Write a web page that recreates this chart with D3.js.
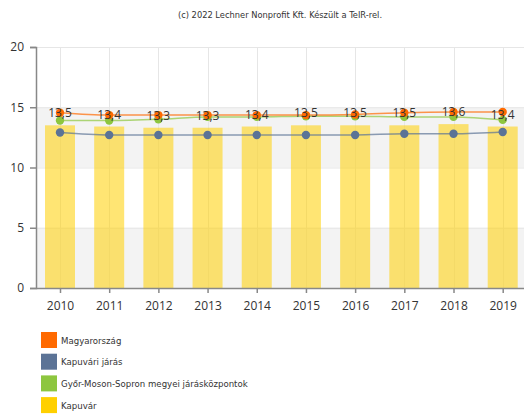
<!DOCTYPE html>
<html><head><meta charset="utf-8">
<script src="https://cdn.jsdelivr.net/npm/d3@7"></script>
<style>body{margin:0;background:#fff}svg{display:block}</style>
</head><body><svg id="c" width="524" height="414"></svg>
<script>
const years = ["2010","2011","2012","2013","2014","2015","2016","2017","2018","2019"];
const yTicks = [0,5,10,15,20];
const kapuvar = [13.5,13.4,13.3,13.3,13.4,13.5,13.5,13.5,13.6,13.4];
const magyarorszag = [14.55,14.35,14.35,14.35,14.35,14.35,14.4,14.55,14.6,14.6];
const gyms = [13.9,13.9,14.0,14.2,14.2,14.25,14.25,14.2,14.2,13.95];
const kapuvariJaras = [12.9,12.7,12.7,12.7,12.7,12.7,12.7,12.8,12.8,12.95];
const seriesNames = ["Magyarország","Kapuvári járás","Győr-Moson-Sopron megyei járásközpontok","Kapuvár"];
const colors = ["#FF6A00","#5B7396","#8DC63F","#FFD000"];
const title = "(c) 2022 Lechner Nonprofit Kft. Készült a TeIR-rel.";

const svg = d3.select("#c");
const x = d3.scalePoint().domain(years).range([60, 502.7]);
const left = 36, right = 527;
const y = d3.scaleLinear().domain([0,20]).range([288,47]);

// alternating bands
for (let i=0;i<yTicks.length-1;i++){
  if (i%2===0) svg.append("rect").attr("x",left).attr("width",right-left)
    .attr("y",y(yTicks[i+1])).attr("height",y(yTicks[i])-y(yTicks[i+1])).attr("fill","#f3f3f3");
}
// horizontal grid
svg.selectAll(".hg").data(yTicks.slice(1)).join("line")
  .attr("x1",left).attr("x2",right).attr("y1",d=>y(d)+0.5).attr("y2",d=>y(d)+0.5)
  .attr("stroke","#e6e6e6");
// vertical grid
svg.selectAll(".vg").data(years).join("line")
  .attr("x1",d=>Math.round(x(d))+0.5).attr("x2",d=>Math.round(x(d))+0.5)
  .attr("y1",y(20)).attr("y2",y(0)).attr("stroke","#e6e6e6");

// bars
const bw = 30;
svg.selectAll(".bar").data(kapuvar).join("rect")
  .attr("x",(d,i)=>x(years[i])-bw/2).attr("width",bw)
  .attr("y",d=>y(d)).attr("height",d=>y(0)-y(d))
  .attr("fill",colors[3]).attr("fill-opacity",0.55);

// lines
const line = d3.line().x((d,i)=>x(years[i])).y(d=>y(d)).curve(d3.curveMonotoneX);
const lineSeries = [[kapuvariJaras,1],[gyms,2],[magyarorszag,0]];
lineSeries.forEach(([vals,ci])=>{
  svg.append("path").datum(vals).attr("d",line).attr("fill","none")
    .attr("stroke",colors[ci]).attr("stroke-width",1.5).attr("stroke-opacity",0.7);
  svg.selectAll(null).data(vals).join("circle")
    .attr("cx",(d,i)=>x(years[i])).attr("cy",d=>y(d)).attr("r",4.2)
    .attr("fill",colors[ci]);
});

// labels
svg.selectAll(".lab").data(kapuvar).join("text")
  .attr("x",(d,i)=>x(years[i])).attr("y",d=>y(d)-8)
  .attr("text-anchor","middle").attr("font-family","Open Sans").attr("font-size",12)
  .attr("fill","#333").text(d=>d3.format(".1f")(d).replace(".",","));

// axes
const yAxis = svg.append("g").attr("transform",`translate(${left},0)`)
  .call(d3.axisLeft(y).tickValues(yTicks).tickSize(6).tickPadding(6));
const xAxis = svg.append("g").attr("transform",`translate(0,${y(0)})`)
  .call(d3.axisBottom(x).tickSize(5).tickPadding(8));
xAxis.select(".domain").attr("d",`M${left},0.5H${right}`);
[yAxis,xAxis].forEach(g=>{
  g.selectAll("path,line").attr("stroke","#888").attr("stroke-width",1.5);
  g.selectAll("text").attr("font-family","Open Sans").attr("font-size",12).attr("fill","#333");
});

// title
svg.append("text").attr("x",280).attr("y",18).attr("text-anchor","middle")
  .attr("font-family","DejaVu Sans").attr("font-size",8.3).attr("fill","#333").text(title);

// legend
const lg = svg.selectAll(".lg").data(seriesNames).join("g")
  .attr("transform",(d,i)=>`translate(41,${332+i*21.7})`);
lg.append("rect").attr("width",16).attr("height",16).attr("fill",(d,i)=>colors[i]);
lg.append("text").attr("x",20).attr("y",11.5).attr("font-family","DejaVu Sans")
  .attr("font-size",8.6).attr("fill","#333").text(d=>d);
</script></body></html>
